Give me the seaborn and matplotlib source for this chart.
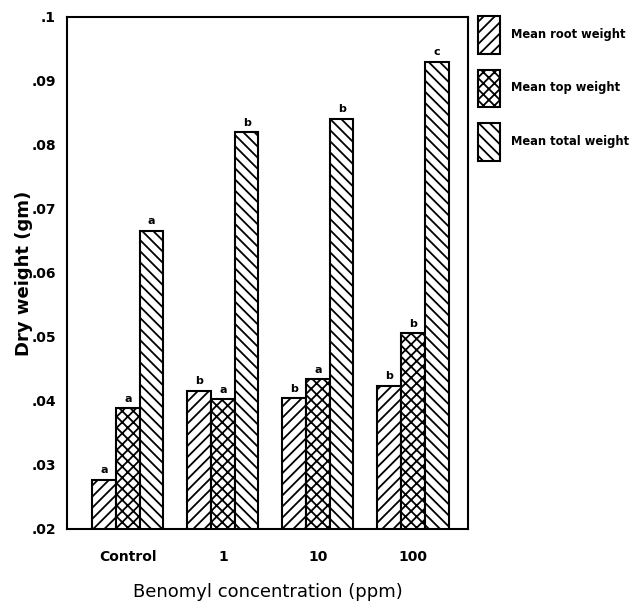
import matplotlib
matplotlib.use("Agg")
import matplotlib.pyplot as plt
import seaborn as sns
import pandas as pd
from matplotlib.patches import Patch

categories = ["Control", "1", "10", "100"]
series = ["Mean root weight", "Mean top weight", "Mean total weight"]
root = [0.0277, 0.0416, 0.0404, 0.0424]
top = [0.0389, 0.0403, 0.0434, 0.0506]
total = [0.0666, 0.0820, 0.0841, 0.0930]
root_letters = ["a", "b", "b", "b"]
top_letters = ["a", "a", "a", "b"]
total_letters = ["a", "b", "b", "c"]
yticks = [0.02, 0.03, 0.04, 0.05, 0.06, 0.07, 0.08, 0.09, 0.10]
ytick_labels = [".02", ".03", ".04", ".05", ".06", ".07", ".08", ".09", ".1"]

rows = []
for s, vals in zip(series, [root, top, total]):
    for c, v in zip(categories, vals):
        rows.append({"conc": c, "series": s, "w": v})
df = pd.DataFrame(rows)

sns.set_style("white")
plt.rcParams["font.family"] = ["DejaVu Sans"]
plt.rcParams["hatch.linewidth"] = 1.3
plt.rcParams["text.color"] = "black"
plt.rcParams["axes.labelcolor"] = "black"
plt.rcParams["xtick.color"] = "black"
plt.rcParams["ytick.color"] = "black"

fig = plt.figure(figsize=(6.42, 6.07), dpi=100)
ax = fig.add_axes([67/642, 1-529/607, 401/642, 512/607])

sns.barplot(data=df, x="conc", y="w", hue="series", order=categories,
            hue_order=series, palette=["white"]*3, edgecolor="black",
            linewidth=1.5, width=0.75, ax=ax, legend=False, saturation=1)

hatches = ["///", "xxx", "\\\\\\"]
letters = [root_letters, top_letters, total_letters]
bars = [p for p in ax.patches]
for i, p in enumerate(bars[:12]):
    si = i // 4
    ci = i % 4
    p.set_hatch(hatches[si])
    p.set_facecolor("white")
    p.set_edgecolor("black")
    ax.text(p.get_x() + p.get_width()/2, p.get_height() + 0.0007,
            letters[si][ci], ha="center", va="bottom", fontsize=8,
            fontweight="bold", color="black")

ax.set_ylim(0.02, 0.10)
ax.set_xlim(-0.64, 3.58)
ax.set_yticks(yticks)
ax.set_yticklabels(ytick_labels, fontsize=10, fontweight="bold")
ax.set_xticks(range(len(categories)))
ax.set_xticklabels(categories, fontsize=10, fontweight="bold")
ax.tick_params(axis="both", direction="out", length=4, width=1.2, colors="black", pad=11)
ax.tick_params(axis="y", pad=4)
for sp in ax.spines.values():
    sp.set_visible(True)
    sp.set_color("black")
    sp.set_linewidth(1.5)
ax.set_ylabel("Dry weight (gm)", fontsize=13, fontweight="bold", color="black")
ax.yaxis.set_label_coords(-0.085, 0.5)
ax.set_xlabel("Benomyl concentration (ppm)", fontsize=13, color="black")
ax.xaxis.set_label_coords(0.5, -0.105)

handles = [Patch(facecolor="white", edgecolor="black", hatch=h, linewidth=1.5) for h in hatches]
leg = fig.legend(handles, series, loc="upper left", bbox_to_anchor=(468/642, 1-6/607),
                 frameon=False, handlelength=1.9, handleheight=4.6, labelspacing=1.4,
                 handletextpad=0.9, prop={"size": 8.3, "weight": "bold"})
for t in leg.get_texts():
    t.set_color("black")

fig.savefig("out.png", dpi=100)
